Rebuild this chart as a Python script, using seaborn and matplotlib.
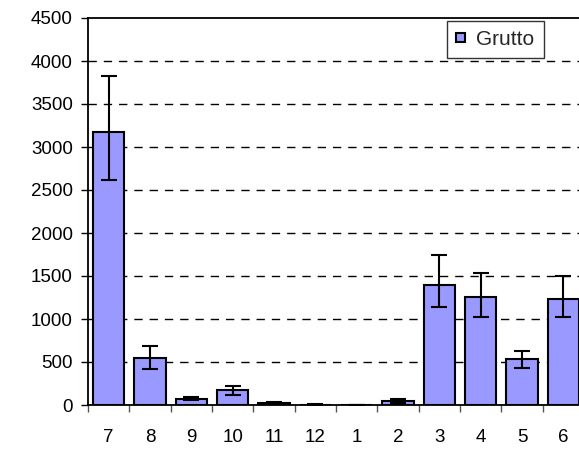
import matplotlib
matplotlib.use("Agg")
import matplotlib.pyplot as plt
import seaborn as sns
import pandas as pd
import numpy as np

months = ["7", "8", "9", "10", "11", "12", "1", "2", "3", "4", "5", "6"]
values = [3180, 544, 75, 175, 25, 5, 3, 43, 1395, 1259, 533, 1232]
err_low = [2620, 423, 60, 120, 18, 3, 2, 28, 1139, 1018, 435, 1018]
err_high = [3830, 688, 90, 221, 32, 7, 4, 73, 1740, 1535, 629, 1495]
series_name = "Grutto"

sns.set_theme(style="white")
plt.rcParams['font.family'] = ['Liberation Sans', 'DejaVu Sans']

df = pd.DataFrame({"month": months, "value": values})

fig = plt.figure(figsize=(5.79, 4.49), dpi=100)
ax = fig.add_axes([88/579, 1-405/449, 496/579, 387/449])

sns.barplot(data=df, x="month", y="value", order=months, color="#9999FF",
            edgecolor="black", linewidth=1.5, width=0.76, saturation=1,
            label=series_name, ax=ax, zorder=3)

x = np.arange(len(months))
vals = np.array(values)
yerr = np.vstack([vals - np.array(err_low), np.array(err_high) - vals])
ax.errorbar(x, vals, yerr=yerr, fmt="none", ecolor="black", elinewidth=1.5,
            capsize=5.5, capthick=1.5, zorder=4)

ax.set_ylim(0, 4500)
ax.set_xlim(-0.5, len(months) - 0.5)
ax.set_yticks(np.arange(0, 4501, 500))
ax.set_xlabel("")
ax.set_ylabel("")

for yv in np.arange(500, 4001, 500):
    ax.axhline(yv, color="black", lw=1.0, linestyle=(0, (6, 5)), zorder=1)

for s in ["left", "bottom", "top", "right"]:
    ax.spines[s].set_visible(True)
    ax.spines[s].set_color("black")
    ax.spines[s].set_linewidth(1.3)

ax.set_xticks(x)
ax.set_xticklabels(months)
ax.tick_params(axis="x", which="major", length=0, labelsize=13.5, pad=17, colors="black")
ax.set_xticks(np.arange(-0.5, len(months), 1), minor=True)
ax.tick_params(axis="x", which="minor", length=5, width=1, direction="out", color="#555555")
ax.tick_params(axis="y", length=5, width=1, direction="out", labelsize=13.5, pad=6, colors="black")
ax.tick_params(axis="both", bottom=True, left=True)
ax.xaxis.set_tick_params(which="minor", bottom=True)

leg = ax.legend(loc="upper right", bbox_to_anchor=(0.919, 0.993), frameon=True,
                fancybox=False, edgecolor="black", fontsize=15, handlelength=0.42,
                handleheight=0.25, handletextpad=0.55, borderpad=0.45, borderaxespad=0)
leg.get_frame().set_linewidth(1.0)
leg.set_zorder(5)

fig.savefig("out.png", dpi=100)
